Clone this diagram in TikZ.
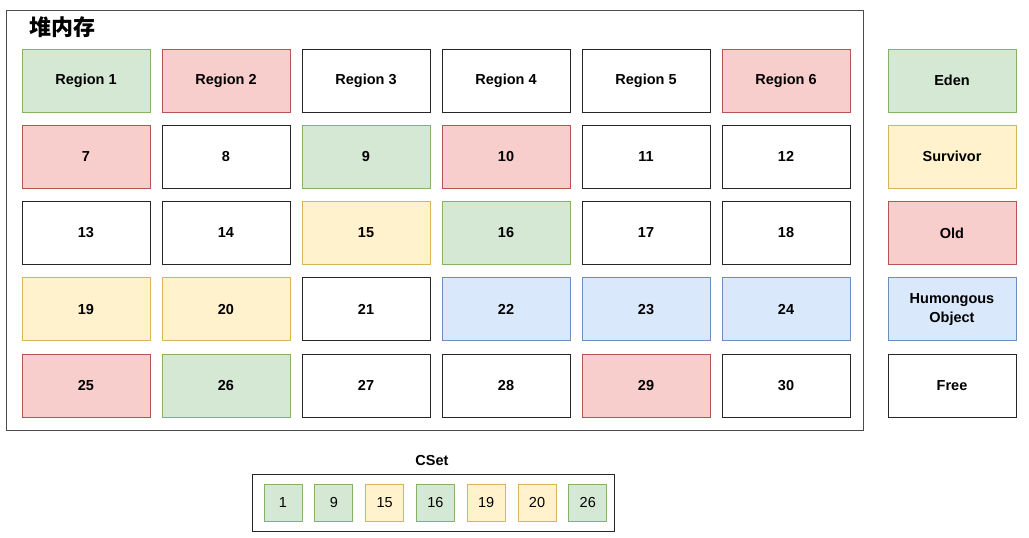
\documentclass[tikz,border=0pt]{standalone}
\usepackage{fontspec}
\setmainfont{Liberation Sans}
\newfontfamily\cjk{Noto Sans CJK SC}
\definecolor{edenfill}{HTML}{D5E8D4}\definecolor{edenline}{HTML}{82B366}
\definecolor{oldfill}{HTML}{F8CECC}\definecolor{oldline}{HTML}{B85450}
\definecolor{survfill}{HTML}{FFF2CC}\definecolor{survline}{HTML}{D6B656}
\definecolor{humfill}{HTML}{DAE8FC}\definecolor{humline}{HTML}{6C8EBF}
\tikzset{cell/.style={draw,line width=1pt,minimum width=128pt,minimum height=63pt,
        align=center,font=\fontsize{14.5}{17}\selectfont\bfseries},
    small cell/.style={draw,line width=1pt,minimum width=38pt,minimum height=37pt,
        font=\fontsize{14.5}{17}\selectfont},
    edenbox/.style={fill=edenfill,draw=edenline},
    oldbox/.style={fill=oldfill,draw=oldline},
    survbox/.style={fill=survfill,draw=survline},
    humbox/.style={fill=humfill,draw=humline},
    freebox/.style={fill=white,draw=black!85},
    }

\begin{document}
\begin{tikzpicture}[x=1pt,y=-1pt]
\useasboundingbox (0,0) rectangle (1029,538);
% heap
\node[draw=black!70,line width=1pt,minimum width=857pt,minimum height=420pt] (heap) at (434.5,220) {};
\node[font=\cjk\fontsize{22}{25}\selectfont\bfseries] (title) at (63,27) {堆内存};
\foreach \lbl/\sty [count=\i from 0] in {Region 1/edenbox,Region 2/oldbox,Region 3/freebox,
    Region 4/freebox,Region 5/freebox,Region 6/oldbox,
    7/oldbox,8/freebox,9/edenbox,10/oldbox,11/freebox,12/freebox,
    13/freebox,14/freebox,15/survbox,16/edenbox,17/freebox,18/freebox,
    19/survbox,20/survbox,21/freebox,22/humbox,23/humbox,24/humbox,
    25/oldbox,26/edenbox,27/freebox,28/freebox,29/oldbox,30/freebox}{
  \pgfmathtruncatemacro{\col}{mod(\i,6)}
  \pgfmathtruncatemacro{\row}{int(\i/6)}
  \pgfmathtruncatemacro{\k}{\i+1}
  \node[cell,\sty] (r\k) at (86+140*\col,80.5+76.25*\row) {\lbl};
}
% legend
\node[cell,edenbox] (eden) at (952,80.5) {Eden};
\node[cell,survbox] (surv) at (952,156.75) {Survivor};
\node[cell,oldbox] (old) at (952,233) {Old};
\node[cell,humbox] (hum) at (952,309.25) {Humongous\\[2pt]Object};
\node[cell,freebox] (free) at (952,385.5) {Free};
% cset
\node[font=\fontsize{14.5}{17}\selectfont\bfseries] (csetlbl) at (432,461) {CSet};
\node[draw=black!85,line width=1pt,minimum width=362pt,minimum height=57pt] (cset) at (433,502.5) {};
\foreach \lbl/\sty [count=\i from 0] in {1/edenbox,9/edenbox,15/survbox,16/edenbox,
    19/survbox,20/survbox,26/edenbox}{
  \node[small cell,\sty] (c\lbl) at (283+50.8*\i,502.5) {\lbl};
}
\end{tikzpicture}
\end{document}
